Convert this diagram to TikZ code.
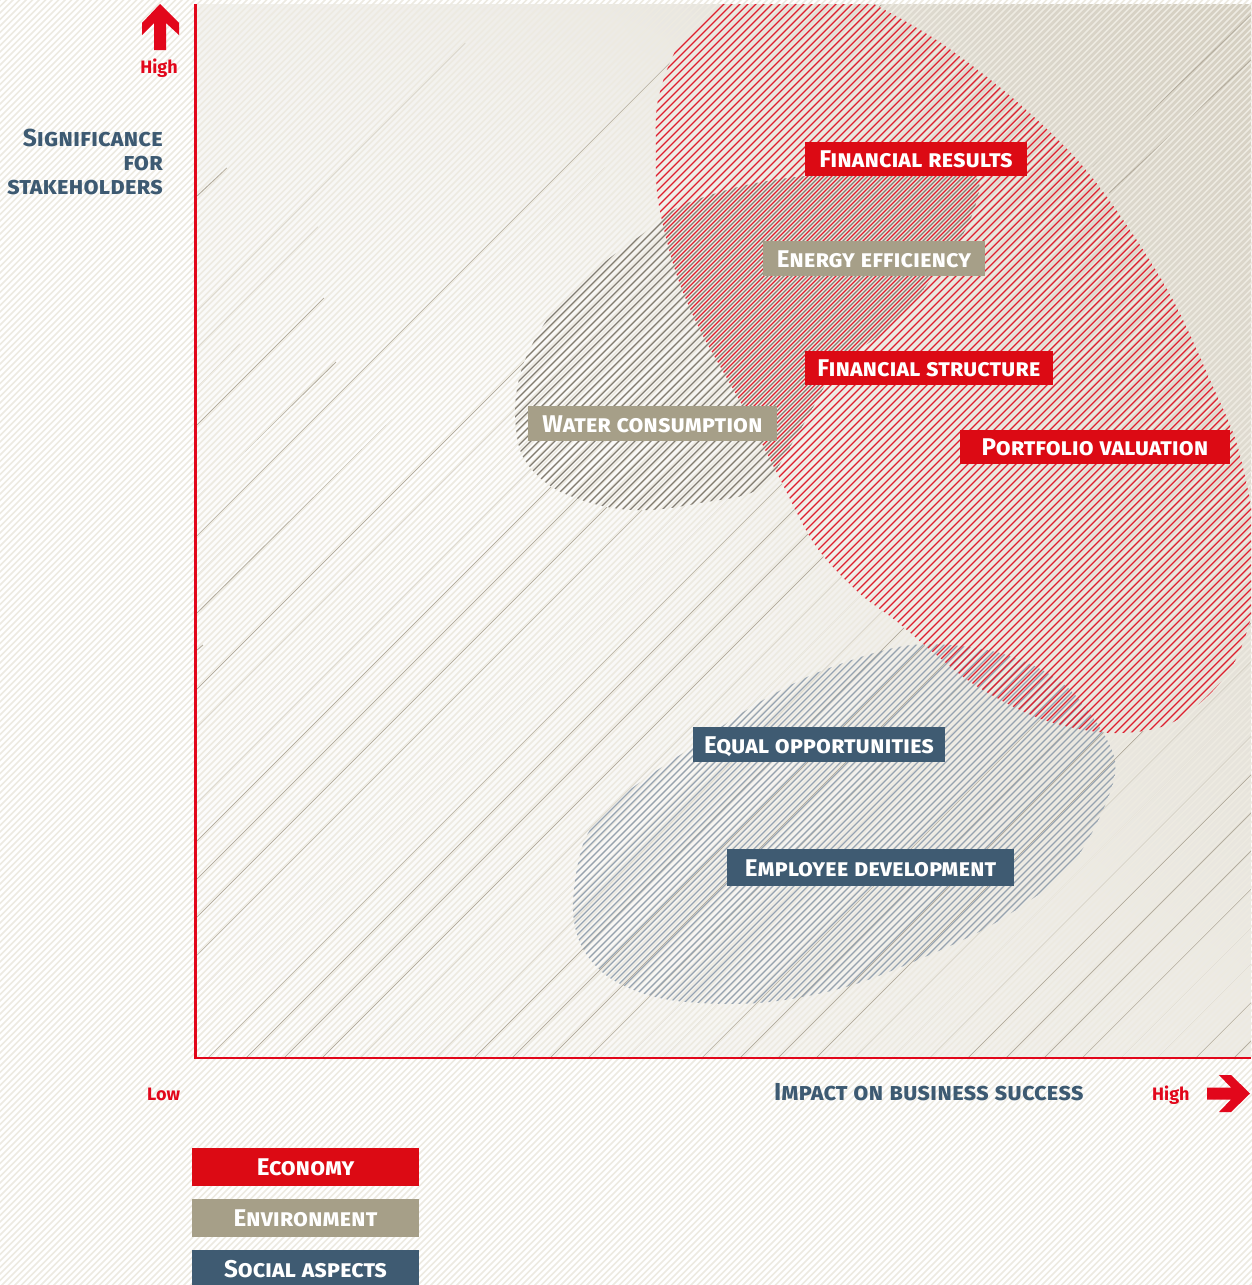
\documentclass[tikz,border=0pt]{standalone}
\usepackage{fontspec}
\setmainfont{Fira Sans}
\usetikzlibrary{fadings,shadings}
\definecolor{ecored}{HTML}{DC0A14}
\definecolor{axred}{HTML}{E2071B}
\definecolor{envbeige}{HTML}{A69F88}
\definecolor{socblue}{HTML}{3F5B72}
\definecolor{titleblue}{HTML}{3D5A72}
\definecolor{hatchred}{HTML}{DE1F2E}
\definecolor{hatchgrey}{HTML}{827C71}
\definecolor{hatchblue}{HTML}{96A3B0}
\definecolor{bgline}{HTML}{B5AE9F}
\definecolor{stripe}{HTML}{EDEAE1}
\definecolor{bgUL}{HTML}{EFEEEA}
\definecolor{bgUR}{HTML}{D4CEC0}
\definecolor{bgLR}{HTML}{EEECE6}
\tikzfading[name=myglow, inner color=transparent!0, outer color=transparent!100]
\newcommand\bgfill{%
  \shade[upper left=bgUL, upper right=bgUR, lower left=white, lower right=bgLR] (196,4) rectangle (1251,1058);
  \fill[white, path fading=myglow] (430,470) circle (700);
}
\tikzset{
  lab/.style={text=white, font=\fontsize{24.2}{24.2}\selectfont\bfseries\scshape, inner sep=0pt, text height=17pt, text depth=0pt, anchor=center},
  ttl/.style={text=titleblue, font=\fontsize{24.6}{24.6}\selectfont\bfseries\scshape, inner sep=0pt},
  hl/.style={text=axred, font=\fontsize{18}{18}\selectfont\bfseries, inner sep=0pt},
  bgseg/.style={bgline, line width=1pt},
}
\begin{document}
\begin{tikzpicture}[x=1pt, y=-1pt]
\useasboundingbox (0,0) rectangle (1251,1285);
\fill[white] (0,0) rectangle (1251,1285);
% blob outlines
\path[save path=\redpath] plot[smooth cycle, tension=0.55] coordinates {(722,4) (760,-20) (830,-18) (874,4) (941,43) (1015,100) (1080,163) (1130,230) (1173,300) (1210,380) (1240,455) (1258,570) (1234,663) (1177,720) (1115,733) (1044,720) (978,687) (934,653) (895,620) (858,592) (815,545) (778,475) (742,405) (700,330) (675,270) (658,200) (656,150) (658,100) (679,45)};
\path[save path=\greypath] plot[smooth cycle, tension=0.55] coordinates {(515,411) (520,375) (533,343) (555,310) (605,262) (640,236) (679,207) (738,187) (796,177) (870,172) (940,170) (978,180) (972,215) (957,243) (907,310) (870,342) (838,365) (800,430) (760,488) (700,503) (650,510) (607,507) (563,493) (537,475) (520,450)};
\path[save path=\socpath] plot[smooth cycle, tension=0.55] coordinates {(573,903) (586,837) (626,793) (692,747) (758,703) (824,670) (912,645) (1000,653) (1067,687) (1113,753) (1106,803) (1067,870) (1000,920) (934,953) (846,987) (758,1003) (670,1000) (613,980) (582,947)};
% plot background and guide lines
\begin{scope}
  \clip (196,4) rectangle (1251,1058);
  \bgfill
  \foreach \c in {886,924,...,2292} \draw[bgseg] (\c-1060,1060) -- (\c-2,2);
  \draw[bgseg] (197,196) -- (227,168);
  \draw[bgseg] (197,311) -- (465,43);
  \draw[bgseg] (197,348) -- (318,227);
  \draw[bgseg] (197,388) -- (240,344);
  \draw[bgseg] (197,425) -- (324,298);
  \draw[bgseg] (197,498) -- (336,362);
  \draw[bgseg] (197,536) -- (700,33);
  \draw[bgseg] (197,576) -- (605,168);
  \draw[bgseg] (197,613) -- (392,420);
  \draw[bgseg] (197,650) -- (203,645);
  \begin{scope}\clip[use path=\redpath]; \bgfill \end{scope}
  \begin{scope}\clip[use path=\greypath]; \bgfill \end{scope}
  \begin{scope}\clip (874,0) -- (1251,0) -- (1251,470) -- (1240,455) -- (1210,380) -- (1173,300) -- (1130,230) -- (1080,163) -- (1015,100) -- (941,43) -- cycle; \bgfill \end{scope}
  \draw[bgseg] (1093,167) -- (1251,15);
  \draw[bgseg] (1109,193) -- (1251,60);
\end{scope}
% faint page stripes
\foreach \c in {0,6.5,...,2540} \draw[stripe, line width=1.5pt] (\c-1290,1290) -- (\c+5,-5);
% hatches
\begin{scope}
  \clip[use path=\socpath];
  \foreach \c in {1204,1211,...,2135} \draw[hatchblue, line width=1.3pt] (\c-1015,1015) -- (\c-635,635);
\end{scope}
\begin{scope}
  \clip[use path=\greypath];
  \foreach \c in {676,684,...,1508} \draw[hatchgrey, line width=1.3pt] (\c-520,520) -- (\c-165,165);
\end{scope}
\begin{scope}
  \clip (196,4) rectangle (1251,1058);
  \clip[use path=\redpath];
  \foreach \c in {616,624,...,2008} \draw[hatchred, line width=1.25pt] (\c-745,745) -- (\c+35,-35);
\end{scope}
% axes
\coordinate (top) at (195.5,4);
\coordinate (orig) at (195.5,1058);
\coordinate (right) at (1251,1058);
\draw[axred, line width=2.6pt] (top) -- (orig) -- (right);
\fill[axred] (160,4) -- (179,23) -- (179,35) -- (166,23) -- (166,50) -- (154,50) -- (154,23) -- (142,35) -- (142,23) -- cycle;
\fill[axred] (1250,1093.5) -- (1231,1075) -- (1219,1075) -- (1231,1087.5) -- (1207,1087.5) -- (1207,1099.5) -- (1231,1099.5) -- (1219,1112) -- (1231,1112) -- cycle;
% axis texts
\node[hl, anchor=base] (hy) at (159,73) {High};
\node[hl, anchor=base west] (lo) at (147,1100) {Low};
\node[hl, anchor=base west] (hx) at (1152,1100) {High};
\node[ttl, anchor=base east] (t1) at (163,146) {Significance};
\node[ttl, anchor=base east] (t2) at (163,170) {for};
\node[ttl, anchor=base east] (t3) at (163,194) {stakeholders};
\node[ttl, anchor=base west] (xt) at (774,1100) {Impact on business success};
% topic labels
\node[lab, fill=ecored, minimum width=222pt, minimum height=34pt] (fr) at (916,159) {Financial results};
\node[lab, fill=envbeige, minimum width=222pt, minimum height=35pt] (ee) at (874,258.5) {Energy efficiency};
\node[lab, fill=ecored, minimum width=248pt, minimum height=34pt] (fs) at (929,368) {Financial structure};
\node[lab, fill=envbeige, minimum width=249pt, minimum height=35pt] (wc) at (652.5,423.5) {Water consumption};
\node[lab, fill=ecored, minimum width=270pt, minimum height=34pt] (pv) at (1095,447) {Portfolio valuation};
\node[lab, fill=socblue, minimum width=252pt, minimum height=35pt] (eo) at (819,744.5) {Equal opportunities};
\node[lab, fill=socblue, minimum width=287pt, minimum height=37pt] (ed) at (870.5,867.5) {Employee development};
% legend
\node[lab, fill=ecored, minimum width=227pt, minimum height=38pt] (leco) at (305.5,1167) {Economy};
\node[lab, fill=envbeige, minimum width=227pt, minimum height=38pt] (lenv) at (305.5,1218) {Environment};
\node[lab, fill=socblue, minimum width=227pt, minimum height=38pt] (lsoc) at (305.5,1269) {Social aspects};
\end{tikzpicture}
\end{document}
